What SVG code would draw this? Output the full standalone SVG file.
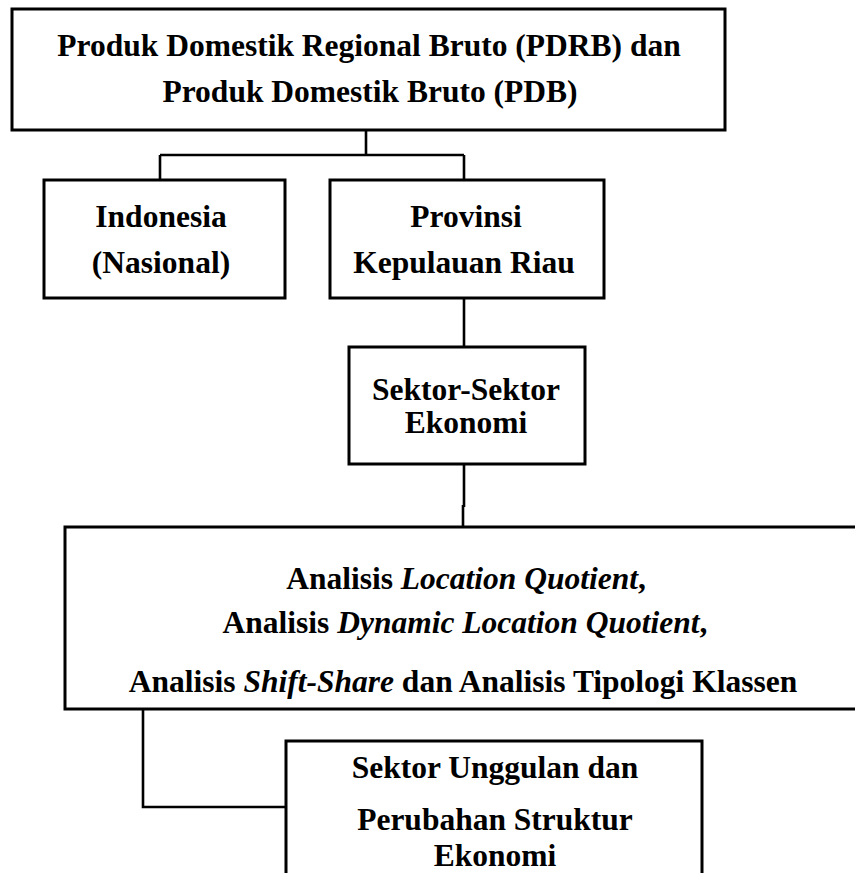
<svg xmlns="http://www.w3.org/2000/svg" width="855" height="873" viewBox="0 0 855 873">
<style>
.box{fill:#fff;stroke:#000;stroke-width:3}
.t{font-family:"Liberation Serif","Times New Roman",serif;font-weight:bold;font-size:31.5px;fill:#000;text-anchor:middle}
.i{font-style:italic}
.c{fill:none;stroke:#000;stroke-width:2.6}
</style>
<rect width="855" height="873" fill="#fff"/>
<g id="connectors">
<path class="c" d="M366 130V155M160 155H464M160 155V180M464 155V180"/>
<path class="c" d="M464 298V347"/>
<path class="c" d="M464 465V507M463 505V527"/>
<path class="c" d="M143 709V807H286"/>
</g>
<g id="node-pdrb">
<rect class="box" x="12" y="9" width="713" height="121"/>
<text class="t" x="369" y="56">Produk Domestik Regional Bruto (PDRB) dan</text>
<text class="t" x="370" y="102">Produk Domestik Bruto (PDB)</text>
</g>
<g id="node-indonesia">
<rect class="box" x="44" y="180" width="241" height="118"/>
<text class="t" x="161" y="227">Indonesia</text>
<text class="t" x="161" y="273">(Nasional)</text>
</g>
<g id="node-provinsi">
<rect class="box" x="330" y="180" width="274" height="118"/>
<text class="t" x="466" y="227">Provinsi</text>
<text class="t" x="464" y="273">Kepulauan Riau</text>
</g>
<g id="node-sektor">
<rect class="box" x="349" y="347" width="236" height="117"/>
<text class="t" x="466" y="400">Sektor-Sektor</text>
<text class="t" x="466" y="433">Ekonomi</text>
</g>
<g id="node-analisis">
<rect class="box" x="65" y="527" width="810" height="182"/>
<text class="t" x="466" y="589">Analisis <tspan class="i">Location Quotient</tspan>,</text>
<text class="t" x="465" y="633">Analisis <tspan class="i">Dynamic Location Quotient</tspan>,</text>
<text class="t" x="463" y="692">Analisis <tspan class="i">Shift-Share</tspan> dan Analisis Tipologi Klassen</text>
</g>
<g id="node-unggulan">
<rect class="box" x="286" y="741" width="416" height="150"/>
<text class="t" x="495" y="778">Sektor Unggulan dan</text>
<text class="t" x="495" y="830">Perubahan Struktur</text>
<text class="t" x="495" y="866">Ekonomi</text>
</g>
</svg>
